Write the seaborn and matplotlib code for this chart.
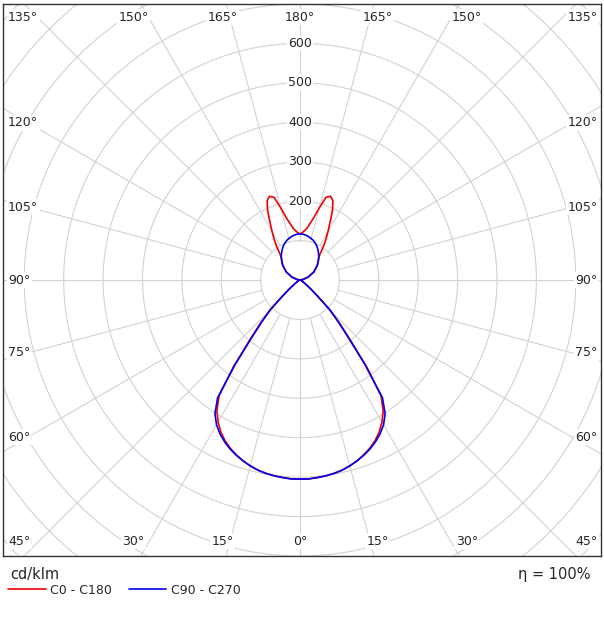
import numpy as np
import pandas as pd
import matplotlib
matplotlib.use("Agg")
import matplotlib.pyplot as plt
import seaborn as sns

# gamma angle in degrees: 0 = straight down, 180 = straight up
gamma = [0, 2.5, 5, 7.5, 10, 12.5, 15, 17.5, 20, 22.5,
         25, 27.5, 30, 32.5, 35, 37.5, 40, 42.5, 45, 47.5,
         50, 55, 60, 70, 80, 90, 100, 110, 120, 130,
         135, 140, 142.5, 145, 147.5, 150, 152.5, 155, 157.5, 160,
         162.5, 165, 167.5, 170, 172.5, 175, 177.5, 180]

# luminous intensity, cd/klm (each plane is symmetric, both halves use the same values)
i_c0_c180 = [505, 505, 503, 501, 498, 494, 488, 481, 472, 462,
             450, 435, 416, 393, 358, 278, 197, 148, 108, 60,
             36, 15, 7, 3, 1, 0, 8, 22, 40, 57,
             65, 74, 84, 103, 122, 142, 165, 195, 218, 226,
             220, 190, 162, 145, 132, 125, 120, 117]
i_c90_c270 = [505, 505, 503, 501, 498, 494, 488, 481, 473, 464,
              453, 440, 424, 402, 365, 272, 192, 143, 106, 60,
              36, 15, 7, 3, 1, 0, 8, 22, 40, 57,
              65, 74, 78, 82, 86, 90, 94, 98, 101, 104,
              107, 109, 111, 113, 114.5, 116, 116.5, 117]

series_names = ["C0 - C180", "C90 - C270"]
series_colors = ["#ee0000", "#0000ee"]

ring_values = [100, 200, 300, 400, 500, 600, 700, 800, 900, 1000, 1100]
ring_labels = [200, 300, 400, 500, 600]
angle_ticks = list(range(0, 181, 15))

sns.set_style("white")
plt.rcParams["font.family"] = ["DejaVu Sans"]

# closed curves: right half gamma 0->180, left half back 180->0
rows = []
for name, vals in zip(series_names, [i_c0_c180, i_c90_c270]):
    g = np.radians(gamma)
    v = np.array(vals, dtype=float)
    xr, yr = v * np.sin(g), -v * np.cos(g)
    xs = np.concatenate([xr, -xr[::-1]])
    ys = np.concatenate([yr, yr[::-1]])
    for k, (x, y) in enumerate(zip(xs, ys)):
        rows.append({"x": x, "y": y, "series": name, "order": k})
df = pd.DataFrame(rows)

fig = plt.figure(figsize=(6.04, 6.18), dpi=100)
ax = fig.add_axes([3 / 604, 62 / 618, 598 / 604, 552 / 618])
ax.set_xlim(-754, 764)
ax.set_ylim(-700, 700)

grid_c = "#d2d2d2"
t = np.linspace(0, 2 * np.pi, 721)
for r in ring_values:
    ax.plot(r * np.cos(t), r * np.sin(t), color=grid_c, lw=0.8, zorder=1)
for a in range(0, 360, 15):
    ar = np.radians(a)
    ax.plot([100 * np.sin(ar), 1200 * np.sin(ar)], [100 * np.cos(ar), 1200 * np.cos(ar)],
            color=grid_c, lw=0.8, zorder=1)

sns.lineplot(data=df, x="x", y="y", hue="series", palette=dict(zip(series_names, series_colors)),
             sort=False, estimator=None, lw=1.2, ax=ax, zorder=4)

box = dict(fc="white", ec="none", pad=1.0)
for r in ring_labels:
    ax.text(0, r, str(r), ha="center", va="center", fontsize=9, bbox=box, zorder=3)

# angle labels along the frame
SIDE_K, TB_K = 690, 733
for g in angle_ticks:
    for side in ([1] if g in (0, 180) else [-1, 1]):
        gr = np.radians(g)
        dx, dy = side * np.sin(gr), -np.cos(gr)
        t_side = SIDE_K / abs(dx) if abs(dx) > 1e-9 else np.inf
        t_tb = TB_K / abs(dy) if abs(dy) > 1e-9 else np.inf
        if t_side <= t_tb:
            y = np.clip(dy * t_side, -662, 667)
            x = -741 if side < 0 else 756
            ha = "left" if side < 0 else "right"
        else:
            y = 667 if dy > 0 else -662
            x = dx * t_tb
            ha = "center"
        ax.text(x, y, f"{g}°", ha=ha, va="center", fontsize=9, bbox=box, zorder=3)

ax.set_xticks([])
ax.set_yticks([])
ax.set_xlabel("")
ax.set_ylabel("")
for s in ax.spines.values():
    s.set_color("#333333")
    s.set_linewidth(1.0)

sns.move_legend(ax, "center left", bbox_to_anchor=(8 / 604, 1 - 590 / 618),
                bbox_transform=fig.transFigure, ncol=2, frameon=False, title=None,
                fontsize=9, handlelength=3.0, handletextpad=0.4, columnspacing=1.3,
                borderpad=0, borderaxespad=0)

fig.text(10 / 604, 1 - 574 / 618, "cd/klm", fontsize=10.5, ha="left", va="center")
fig.text(591 / 604, 1 - 574 / 618, "η = 100%", fontsize=10.5, ha="right", va="center")

fig.savefig("out.png", dpi=100)
